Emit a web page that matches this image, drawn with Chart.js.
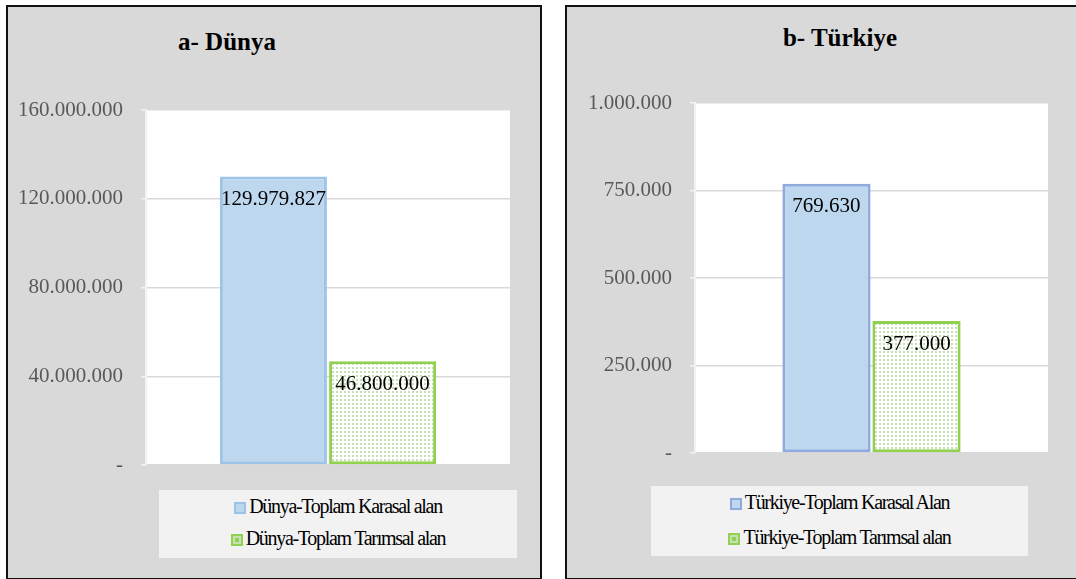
<!DOCTYPE html>
<html>
<head>
<meta charset="utf-8">
<script src="https://cdn.jsdelivr.net/npm/chart.js@4/dist/chart.umd.min.js"></script>
<style>
  body { margin: 0; background: #fff; width: 1076px; height: 579px; overflow: hidden; position: relative; }
  .serif { font-family: "Liberation Serif", "Times New Roman", "DejaVu Serif", serif; }
  .panel { position: absolute; background: #d9d9d9; border: 2px solid #111; box-sizing: border-box; }
  .title { position: absolute; font-weight: bold; font-size: 25px; color: #000; text-align: center; width: 300px; }
  .wrap { position: absolute; }
  .legend { position: absolute; background: #f2f2f2; }
  .legend .row { position: absolute; left: 0; right: 0; text-align: center; font-size: 20px; letter-spacing: -1.3px; color: #000; white-space: nowrap; }
  .legend .mk { display: inline-block; width: 12px; height: 12px; margin-right: 3px; vertical-align: -1px; box-sizing: border-box; }
</style>
</head>
<body>
<div class="panel" style="left:6px; top:5px; width:536px; height:575px;"></div>
<div class="panel" style="left:565px; top:5px; width:520px; height:575px;"></div>

<div class="title serif" style="left:77px; top:28px;">a- Dünya</div>
<div class="title serif" style="left:690px; top:24px;">b- Türkiye</div>

<div class="wrap" style="left:8px; top:7px; width:532px; height:570px;"><canvas id="chartWorld"></canvas></div>
<div class="wrap" style="left:567px; top:7px; width:509px; height:570px;"><canvas id="chartTurkey"></canvas></div>

<div class="legend serif" id="legendWorld" style="left:159px; top:490px; width:358px; height:68px;"></div>
<div class="legend serif" id="legendTurkey" style="left:651px; top:486px; width:377px; height:70px;"></div>

<script>
// Data for both panels
const worldLabels = ["Dünya-Toplam Karasal alan", "Dünya-Toplam Tarımsal alan"];
const worldValues = [129979827, 46800000];
const worldTicks = [0, 40000000, 80000000, 120000000, 160000000];

const turkeyLabels = ["Türkiye-Toplam Karasal Alan", "Türkiye-Toplam Tarımsal alan"];
const turkeyValues = [769630, 377000];
const turkeyTicks = [0, 250000, 500000, 750000, 1000000];

const serifFont = "'Liberation Serif', 'Times New Roman', serif";

// Number format with dots, zero shown as "-"
function fmt(v) {
  if (v === 0) return "-";
  return Math.round(v).toString().replace(/\B(?=(\d{3})+(?!\d))/g, ".");
}

// Dotted fill like the Excel pattern
function dotPattern() {
  const c = document.createElement("canvas");
  c.width = 4; c.height = 4;
  const g = c.getContext("2d");
  g.fillStyle = "#ffffff";
  g.fillRect(0, 0, 4, 4);
  g.fillStyle = "#c5e0b4";
  g.fillRect(0, 0, 2, 2);
  return g.createPattern(c, "repeat");
}

// White plot area behind the grid
const plotBg = {
  id: "plotBg",
  beforeDraw(chart) {
    const a = chart.chartArea;
    const ctx = chart.ctx;
    ctx.save();
    ctx.fillStyle = "#ffffff";
    ctx.fillRect(a.left, a.top, a.right - a.left, a.bottom - a.top);
    ctx.restore();
  }
};

// Value labels near the top inside each bar
const valueLabels = {
  id: "valueLabels",
  afterDatasetsDraw(chart) {
    const ctx = chart.ctx;
    ctx.save();
    ctx.font = "21px " + serifFont;
    ctx.fillStyle = "#000";
    ctx.textAlign = "center";
    ctx.textBaseline = "middle";
    chart.data.datasets.forEach((ds, i) => {
      chart.getDatasetMeta(i).data.forEach((bar, j) => {
        ctx.fillText(fmt(ds.data[j]), bar.x, bar.y + 23);
      });
    });
    ctx.restore();
  }
};

function makeChart(id, labels, values, ticks, blueBorder, padding, catPct) {
  return new Chart(document.getElementById(id), {
    type: "bar",
    data: {
      labels: [""],
      datasets: [
        {
          label: labels[0],
          data: [values[0]],
          backgroundColor: "#bdd7ee",
          borderColor: blueBorder,
          borderWidth: 3,
          borderSkipped: false
        },
        {
          label: labels[1],
          data: [values[1]],
          backgroundColor: dotPattern(),
          borderColor: "#92d050",
          borderWidth: 3,
          borderSkipped: false
        }
      ]
    },
    options: {
      responsive: true,
      maintainAspectRatio: false,
      animation: false,
      layout: { padding: padding },
      datasets: { bar: { categoryPercentage: catPct, barPercentage: 0.98 } },
      plugins: { legend: { display: false }, tooltip: { enabled: false } },
      scales: {
        x: { display: false },
        y: {
          min: ticks[0],
          max: ticks[ticks.length - 1],
          afterBuildTicks(scale) { scale.ticks = ticks.map(v => ({ value: v })); },
          afterFit(scale) { scale.width = padding.axis; },
          ticks: {
            padding: 18,
            color: "#595959",
            font: { family: serifFont, size: 21 },
            callback: v => fmt(v)
          },
          grid: { color: "#d9d9d9", tickColor: "#f2f2f2", tickLength: 5, lineWidth: 1.5 },
          border: { color: "#f2f2f2", width: 2 }
        }
      }
    },
    plugins: [plotBg, valueLabels]
  });
}

makeChart("chartWorld", worldLabels, worldValues, worldTicks, "#9dc3e6",
  { left: 0, right: 30, top: 103, bottom: 112, axis: 138 }, 0.6);
makeChart("chartTurkey", turkeyLabels, turkeyValues, turkeyTicks, "#8faadc",
  { left: 0, right: 28, top: 96, bottom: 124, axis: 128 }, 0.51);

// Legends built from the same label arrays
function buildLegend(id, labels, blueBorder, tops) {
  const box = document.getElementById(id);
  const marks = [
    `background:#bdd7ee; border:2px solid ${blueBorder};`,
    "background:#92d050; border:2px solid #92d050; box-shadow: inset 0 0 0 2px #c5e0b4;"
  ];
  labels.forEach((txt, i) => {
    const row = document.createElement("div");
    row.className = "row";
    row.style.top = tops[i] + "px";
    row.innerHTML = `<span class="mk" style="${marks[i]}"></span>${txt}`;
    box.appendChild(row);
  });
}
buildLegend("legendWorld", worldLabels, "#9dc3e6", [5, 37]);
buildLegend("legendTurkey", turkeyLabels, "#8faadc", [5, 40]);
</script>
</body>
</html>
